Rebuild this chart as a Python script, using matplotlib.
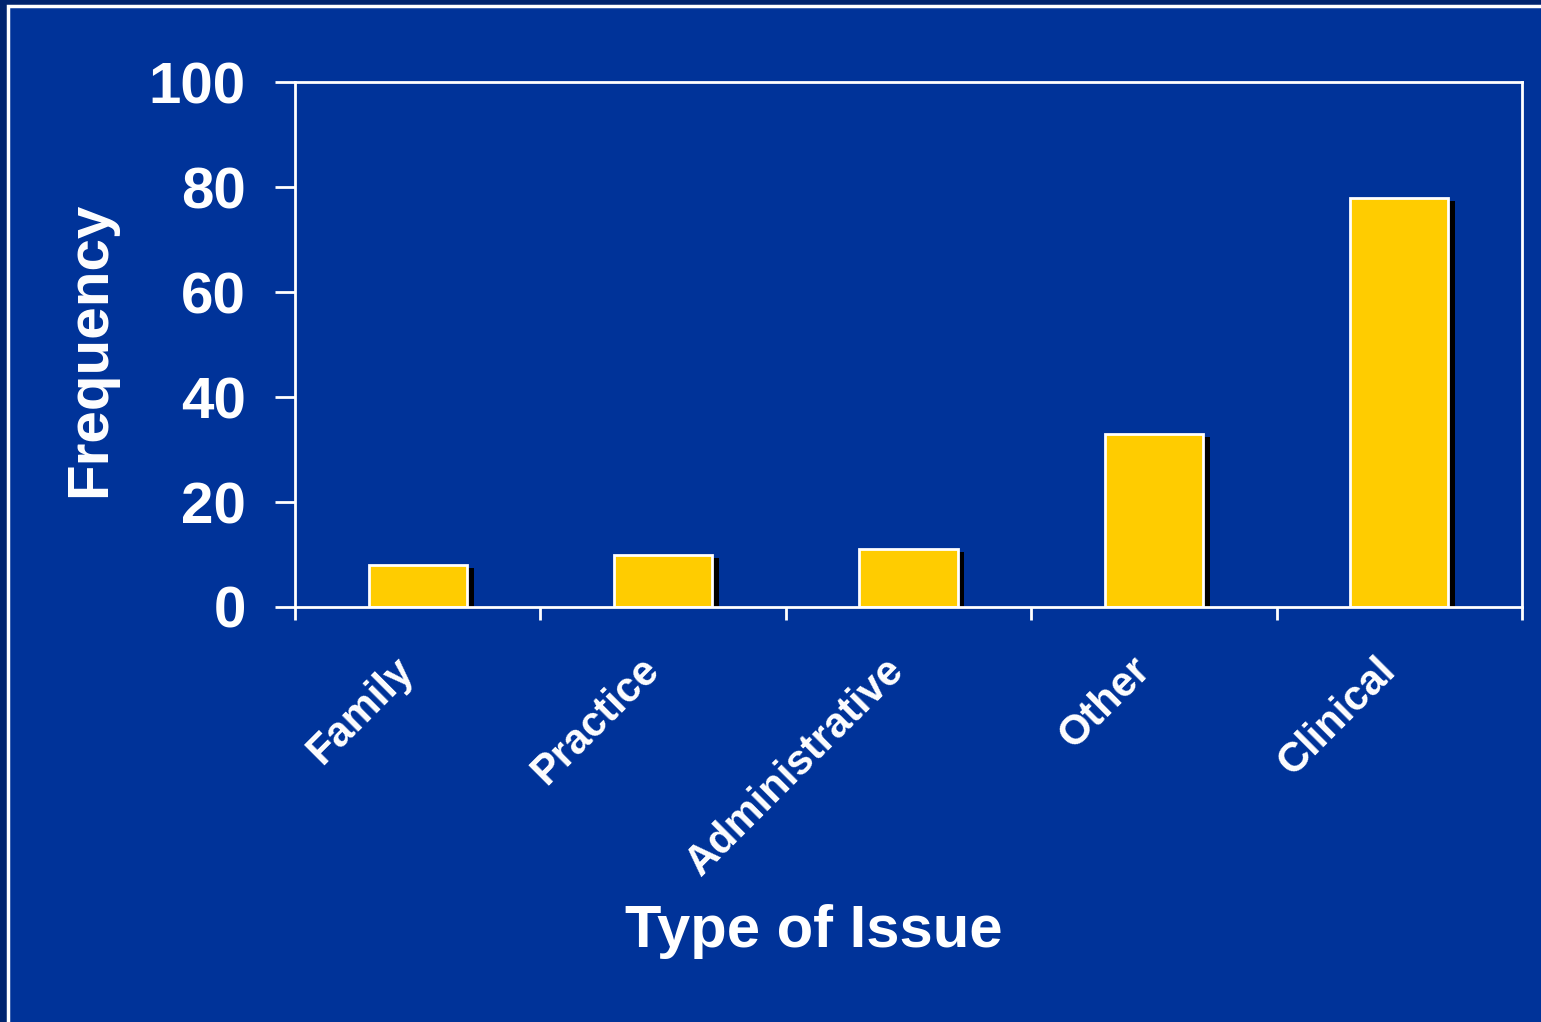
import matplotlib
matplotlib.use("Agg")
import matplotlib.pyplot as plt
from matplotlib.patches import Rectangle
from matplotlib.transforms import ScaledTranslation
import numpy as np

categories = ["Family", "Practice", "Administrative", "Other", "Clinical"]
frequency = [8, 10, 11, 33, 78]

bg = "#003399"
bar_color = "#ffcc00"

plt.rcParams["font.family"] = ["Liberation Sans", "DejaVu Sans"]
plt.rcParams["font.weight"] = "bold"

fig = plt.figure(figsize=(15.41, 10.22), dpi=100)
fig.patch.set_facecolor("#00246f")

# slide panel with white border
W, H = 1541, 1022
panel = Rectangle((8 / W, -0.05), 1.1, 1 - 6 / H + 0.05, transform=fig.transFigure,
                  facecolor=bg, edgecolor="white", linewidth=2.5, zorder=-5)
fig.patches.append(panel)

ax = fig.add_axes([295 / W, 1 - 607 / H, (1522 - 295) / W, (607 - 82) / H])
ax.set_facecolor(bg)

x = np.arange(len(categories))
width = 0.4
# drop shadows
ax.bar(x + 0.028, frequency, width, bottom=-0.6, color="black", zorder=2)
ax.bar(x, frequency, width, color=bar_color, edgecolor="white", linewidth=2, zorder=3)

ax.set_xlim(-0.5, len(categories) - 0.5)
ax.set_ylim(0, 100)
ax.set_yticks(range(0, 101, 20))
ax.set_xticks(np.arange(-0.5, len(categories), 1.0))
ax.set_xticklabels([])
ax.tick_params(axis="x", length=9.4, width=2, color="white", direction="out")
ax.tick_params(axis="y", length=14.4, width=2, color="white", direction="out",
               labelsize=42, labelcolor="white", pad=21)
for lab in ax.get_yticklabels():
    lab.set_fontweight("bold")

# rotated category names under each bar
shift = ax.get_xaxis_transform() + ScaledTranslation(-10 / 100, -57 / 100, fig.dpi_scale_trans)
for xi, name in zip(x, categories):
    ax.text(xi, 0, name, transform=shift, rotation=45, rotation_mode="anchor",
            ha="right", va="center", fontsize=30, color="white", fontweight="bold")

for s in ax.spines.values():
    s.set_color("white")
    s.set_linewidth(2)
    s.set_zorder(4)

ax.set_ylabel("Frequency", fontsize=42, color="white", fontweight="bold")
ax.set_xlabel("Type of Issue", fontsize=43, color="white", fontweight="bold")
ax.yaxis.set_label_coords(-0.145, 0.49)
ax.xaxis.set_label_coords(0.423, -0.565)

fig.savefig("out.png", dpi=100, facecolor=fig.get_facecolor())
